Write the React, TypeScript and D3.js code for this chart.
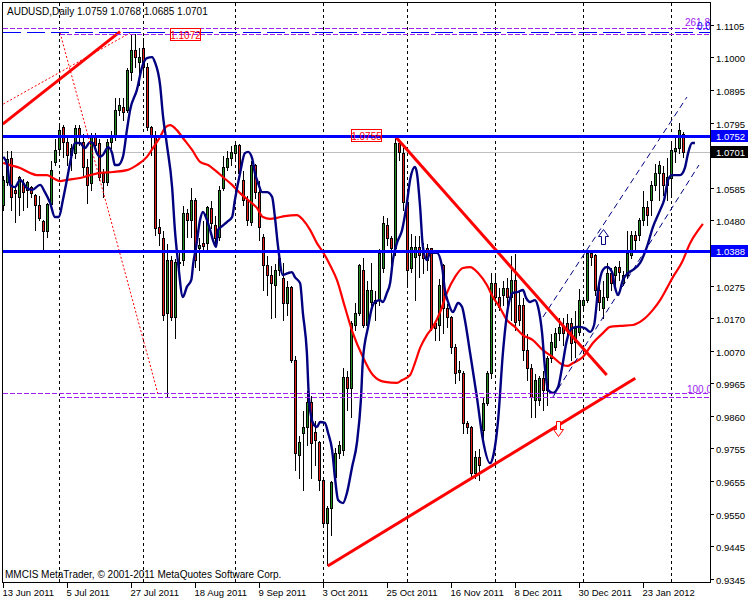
import React, { useEffect, useRef } from "react";
import * as d3 from "d3";

const width = 750;
const height = 600;

// AUDUSD daily bars, bar 0 = 13 Jun 2011
const opens = [
  1.0533, 1.0606, 1.0682, 1.0581, 1.0559, 1.0603, 1.0581, 1.0590, 1.0565, 1.0533,
  1.0482, 1.0451, 1.0536, 1.0670, 1.0711, 1.0781, 1.0733, 1.0692, 1.0698, 1.0778,
  1.0733, 1.0654, 1.0603, 1.0756, 1.0730, 1.0635, 1.0606, 1.0733, 1.0749, 1.0835,
  1.0844, 1.0835, 1.0956, 1.1026, 1.0987, 1.1032, 1.0972, 1.0781, 1.0756, 1.0463,
  1.0428, 1.0190, 1.0358, 1.0177, 1.0349, 1.0358, 1.0508, 1.0486, 1.0549, 1.0397,
  1.0412, 1.0412, 1.0524, 1.0470, 1.0432, 1.0587, 1.0654, 1.0682, 1.0698, 1.0724,
  1.0613, 1.0549, 1.0479, 1.0660, 1.0574, 1.0432, 1.0342, 1.0311, 1.0279, 1.0327,
  1.0301, 1.0222, 1.0273, 1.0041, 0.9739, 0.9809, 0.9828, 0.9907, 0.9812, 0.9780,
  0.9659, 0.9523, 0.9570, 0.9669, 0.9745, 0.9755, 0.9987, 0.9952, 1.0152, 1.0190,
  1.0327, 1.0152, 1.0225, 1.0222, 1.0231, 1.0333, 1.0470, 1.0428, 1.0397, 1.0730,
  1.0698, 1.0543, 1.0333, 1.0368, 1.0400, 1.0390, 1.0397, 1.0397, 1.0158, 1.0152,
  1.0342, 1.0206, 1.0177, 1.0082, 1.0003, 0.9999, 0.9841, 0.9828, 0.9682, 0.9732,
  0.9818, 0.9904, 0.9999, 1.0285, 1.0241, 1.0247, 1.0269, 1.0241, 1.0295, 1.0215,
  1.0215, 1.0072, 1.0015, 0.9914, 0.9914, 0.9984, 0.9945, 1.0047, 1.0082, 1.0126,
  1.0146, 1.0158, 1.0158, 1.0098, 1.0130, 1.0215, 1.0231, 1.0381, 1.0374, 1.0263,
  1.0206, 1.0241, 1.0317, 1.0311, 1.0336, 1.0285, 1.0311, 1.0374, 1.0438, 1.0438,
  1.0486, 1.0527, 1.0549, 1.0597, 1.0635, 1.0635, 1.0597, 1.0619, 1.0705, 1.0714,
  1.0759,
];
const highs = [
  1.0628, 1.0708, 1.0708, 1.0597, 1.0628, 1.0619, 1.0613, 1.0597, 1.0571, 1.0565,
  1.0489, 1.0543, 1.0676, 1.0746, 1.0787, 1.0790, 1.0749, 1.0730, 1.0790, 1.0790,
  1.0762, 1.0682, 1.0765, 1.0765, 1.0746, 1.0651, 1.0746, 1.0771, 1.0876, 1.0876,
  1.0876, 1.0972, 1.1080, 1.1080, 1.1035, 1.1067, 1.0987, 1.0787, 1.0771, 1.0492,
  1.0454, 1.0412, 1.0374, 1.0365, 1.0390, 1.0533, 1.0524, 1.0590, 1.0559, 1.0432,
  1.0486, 1.0533, 1.0549, 1.0501, 1.0597, 1.0692, 1.0708, 1.0724, 1.0730, 1.0730,
  1.0644, 1.0565, 1.0676, 1.0667, 1.0613, 1.0444, 1.0374, 1.0342, 1.0349, 1.0390,
  1.0352, 1.0295, 1.0279, 1.0057, 0.9802, 0.9882, 0.9945, 0.9929, 0.9850, 0.9787,
  0.9669, 0.9580, 0.9659, 0.9764, 0.9787, 1.0018, 1.0009, 1.0168, 1.0225, 1.0349,
  1.0368, 1.0295, 1.0352, 1.0263, 1.0397, 1.0501, 1.0495, 1.0438, 1.0749, 1.0740,
  1.0717, 1.0559, 1.0444, 1.0438, 1.0438, 1.0416, 1.0412, 1.0400, 1.0168, 1.0301,
  1.0349, 1.0222, 1.0184, 1.0095, 1.0041, 1.0009, 0.9850, 0.9834, 0.9755, 0.9761,
  0.9923, 1.0009, 1.0320, 1.0317, 1.0273, 1.0295, 1.0304, 1.0374, 1.0381, 1.0263,
  1.0241, 1.0126, 1.0031, 0.9999, 0.9993, 1.0009, 1.0057, 1.0126, 1.0146, 1.0177,
  1.0177, 1.0190, 1.0177, 1.0200, 1.0269, 1.0241, 1.0390, 1.0390, 1.0381, 1.0295,
  1.0295, 1.0352, 1.0336, 1.0342, 1.0358, 1.0327, 1.0454, 1.0454, 1.0454, 1.0495,
  1.0581, 1.0549, 1.0613, 1.0667, 1.0676, 1.0660, 1.0686, 1.0740, 1.0749, 1.0797,
  1.0768,
];
const lows = [
  1.0517, 1.0597, 1.0517, 1.0479, 1.0501, 1.0517, 1.0527, 1.0559, 1.0454, 1.0486,
  1.0390, 1.0432, 1.0530, 1.0660, 1.0702, 1.0686, 1.0660, 1.0644, 1.0682, 1.0724,
  1.0628, 1.0540, 1.0581, 1.0708, 1.0613, 1.0559, 1.0597, 1.0714, 1.0740, 1.0819,
  1.0803, 1.0829, 1.0930, 1.0972, 1.0914, 1.0946, 1.0771, 1.0692, 1.0438, 1.0406,
  1.0168, 0.9923, 1.0168, 1.0111, 1.0320, 1.0342, 1.0432, 1.0432, 1.0336, 1.0327,
  1.0390, 1.0390, 1.0460, 1.0406, 1.0422, 1.0581, 1.0644, 1.0660, 1.0676, 1.0619,
  1.0533, 1.0470, 1.0470, 1.0555, 1.0422, 1.0263, 1.0247, 1.0174, 1.0177, 1.0311,
  1.0168, 1.0184, 1.0034, 0.9691, 0.9666, 0.9628, 0.9771, 0.9666, 0.9707, 0.9628,
  0.9510, 0.9389, 0.9485, 0.9644, 0.9729, 0.9739, 0.9882, 0.9860, 1.0136, 1.0184,
  1.0146, 1.0136, 1.0215, 1.0168, 1.0215, 1.0320, 1.0406, 1.0320, 1.0374, 1.0676,
  1.0517, 1.0273, 1.0320, 1.0231, 1.0304, 1.0317, 1.0327, 1.0136, 1.0104, 1.0104,
  1.0126, 1.0146, 1.0063, 0.9968, 0.9977, 0.9809, 0.9809, 0.9666, 0.9666, 0.9659,
  0.9787, 0.9898, 0.9984, 1.0231, 1.0200, 1.0215, 1.0200, 1.0168, 1.0136, 1.0152,
  1.0041, 0.9977, 0.9860, 0.9860, 0.9898, 0.9882, 0.9898, 1.0034, 1.0072, 1.0104,
  1.0088, 1.0114, 1.0041, 1.0050, 1.0120, 1.0200, 1.0225, 1.0342, 1.0247, 1.0200,
  1.0174, 1.0231, 1.0263, 1.0279, 1.0295, 1.0279, 1.0301, 1.0365, 1.0390, 1.0422,
  1.0470, 1.0470, 1.0501, 1.0581, 1.0549, 1.0565, 1.0549, 1.0559, 1.0670, 1.0698,
  1.0685,
];
const closes = [
  1.0613, 1.0679, 1.0559, 1.0571, 1.0622, 1.0574, 1.0606, 1.0571, 1.0533, 1.0492,
  1.0451, 1.0536, 1.0644, 1.0708, 1.0771, 1.0733, 1.0692, 1.0714, 1.0778, 1.0756,
  1.0654, 1.0597, 1.0756, 1.0724, 1.0622, 1.0606, 1.0733, 1.0756, 1.0835, 1.0851,
  1.0829, 1.0962, 1.1026, 1.1003, 1.1003, 1.0972, 1.0781, 1.0756, 1.0460, 1.0444,
  1.0184, 1.0358, 1.0177, 1.0352, 1.0352, 1.0508, 1.0486, 1.0549, 1.0358, 1.0406,
  1.0403, 1.0527, 1.0476, 1.0428, 1.0581, 1.0654, 1.0682, 1.0702, 1.0724, 1.0635,
  1.0549, 1.0486, 1.0660, 1.0574, 1.0463, 1.0342, 1.0311, 1.0285, 1.0327, 1.0365,
  1.0222, 1.0273, 1.0041, 0.9745, 0.9780, 0.9828, 0.9907, 0.9777, 0.9787, 0.9659,
  0.9523, 0.9570, 0.9653, 0.9745, 0.9771, 0.9987, 0.9952, 1.0158, 1.0190, 1.0342,
  1.0152, 1.0263, 1.0263, 1.0231, 1.0381, 1.0476, 1.0428, 1.0397, 1.0730, 1.0702,
  1.0543, 1.0327, 1.0400, 1.0400, 1.0374, 1.0365, 1.0358, 1.0142, 1.0142, 1.0279,
  1.0206, 1.0177, 1.0082, 0.9999, 1.0009, 0.9841, 0.9828, 0.9682, 0.9732, 0.9707,
  0.9904, 0.9999, 1.0285, 1.0241, 1.0209, 1.0269, 1.0241, 1.0295, 1.0161, 1.0168,
  1.0072, 1.0015, 0.9923, 0.9977, 0.9984, 0.9945, 1.0047, 1.0098, 1.0126, 1.0146,
  1.0126, 1.0136, 1.0095, 1.0142, 1.0231, 1.0231, 1.0381, 1.0368, 1.0263, 1.0225,
  1.0241, 1.0317, 1.0285, 1.0336, 1.0320, 1.0311, 1.0381, 1.0438, 1.0422, 1.0486,
  1.0527, 1.0501, 1.0597, 1.0635, 1.0660, 1.0597, 1.0622, 1.0708, 1.0714, 1.0771,
  1.0701,
];

// indicator lines, [bar, price]
const fastMa: [number, number][] = [
  [0, 1.0686], [1, 1.066], [1.7, 1.0597], [2.9, 1.059], [4.2, 1.0613], [5.9, 1.0587],
  [7.2, 1.0581], [9.2, 1.0597], [10.4, 1.0574], [11.7, 1.054], [12.9, 1.0495], [13.9, 1.0495],
  [14.9, 1.0549], [15.9, 1.0613], [16.7, 1.0667], [17.9, 1.073], [19.2, 1.073], [20.4, 1.0714],
  [21.7, 1.0733], [22.4, 1.073], [23.4, 1.0698], [24.2, 1.0686], [24.9, 1.0692], [26.2, 1.0717],
  [27.2, 1.0698], [27.9, 1.066], [28.7, 1.066], [29.9, 1.0686], [30.9, 1.0771], [31.7, 1.0835],
  [33.4, 1.0899], [34.7, 1.0972], [35.9, 1.1], [37.2, 1.1003], [37.9, 1.0987], [39.2, 1.0914],
  [39.9, 1.0819], [40.9, 1.0724], [42.2, 1.059], [42.9, 1.0454], [43.7, 1.0349], [44.9, 1.0241],
  [45.9, 1.0273], [47.0, 1.0295], [47.5, 1.0349], [48.2, 1.04], [49.2, 1.0486], [49.9, 1.0511],
  [50.9, 1.0486], [51.7, 1.0454], [52.4, 1.0422], [53.2, 1.04], [53.7, 1.0454], [54.7, 1.0466],
  [55.9, 1.0479], [57.2, 1.0495], [57.9, 1.0549], [59.2, 1.0635], [60.4, 1.0698], [61.2, 1.0702],
  [62.2, 1.0682], [62.9, 1.0635], [63.7, 1.0603], [64.7, 1.0574], [65.9, 1.0574], [67.2, 1.0559],
  [67.9, 1.0495], [68.7, 1.04], [69.9, 1.0311], [71.2, 1.0317], [72.2, 1.032], [72.9, 1.0304],
  [74.2, 1.0285], [74.9, 1.019], [75.9, 1.0063], [76.4, 0.9923], [77.4, 0.9841], [78.4, 0.9828],
  [79.2, 0.9844], [80.4, 0.9841], [81.2, 0.9809], [82.2, 0.9755], [82.9, 0.9669], [83.7, 0.9596],
  [84.9, 0.9586], [85.9, 0.9618], [87.2, 0.9701], [88.4, 0.9777], [89.4, 0.9914], [89.9, 1.0041],
  [91.2, 1.0146], [92.2, 1.0209], [92.9, 1.0225], [94.2, 1.0231], [94.9, 1.0225], [95.9, 1.0254],
  [96.7, 1.0285], [97.4, 1.0358], [98.4, 1.0412], [99.7, 1.0454], [100.9, 1.054], [101.7, 1.0613],
  [102.9, 1.0654], [103.4, 1.0635], [104.2, 1.0527], [104.9, 1.04], [105.9, 1.0358], [106.7, 1.0381],
  [108.4, 1.0381], [109.7, 1.0336], [110.4, 1.0263], [111.2, 1.0225], [112.4, 1.0193], [113.7, 1.0222],
  [114.7, 1.0209], [115.4, 1.0168], [116.7, 1.0063], [118.4, 0.9923], [119.9, 0.9787], [121.7, 0.9713],
  [122.4, 0.9732], [123.7, 0.985], [124.9, 1.0063], [126.2, 1.0209], [127.4, 1.0254], [128.7, 1.0257],
  [129.9, 1.0263], [130.7, 1.0238], [131.7, 1.0225], [132.9, 1.0231], [133.7, 1.0209], [134.7, 1.0126],
  [135.4, 1.0018], [136.2, 0.9945], [137.4, 0.9936], [138.7, 0.9955], [139.7, 1.0018], [140.9, 1.0104],
  [142.2, 1.0142], [143.7, 1.0146], [145.4, 1.0142], [146.7, 1.013], [147.7, 1.0152], [148.7, 1.0263],
  [149.9, 1.0327], [150.9, 1.0336], [152.2, 1.032], [152.9, 1.0273], [153.7, 1.0247], [154.9, 1.0295],
  [156.2, 1.0317], [157.4, 1.0327], [159.2, 1.0349], [160.9, 1.04], [162.4, 1.0463], [164.2, 1.0517],
  [165.2, 1.0549], [166.2, 1.0613], [167.2, 1.0628], [169.2, 1.0628], [170.4, 1.0651], [171.2, 1.0698],
  [172.2, 1.073], [172.9, 1.073],
];
const slowMa: [number, number][] = [
  [0, 1.0667], [1.7, 1.066], [4.2, 1.0651], [6.7, 1.0635], [8.4, 1.0628], [10.9, 1.0628],
  [12.4, 1.0619], [14.2, 1.0609], [15.9, 1.0613], [19.2, 1.0619], [21.7, 1.0628], [24.2, 1.0635],
  [27.4, 1.0638], [30.9, 1.0644], [33.4, 1.066], [35.9, 1.0686], [37.4, 1.0714], [39.2, 1.0749],
  [40.4, 1.0778], [41.7, 1.0787], [43.4, 1.0771], [44.9, 1.0746], [47.2, 1.0708], [49.2, 1.067],
  [51.2, 1.066], [52.9, 1.0644], [54.9, 1.0622], [57.2, 1.0597], [59.2, 1.0571], [61.2, 1.0549],
  [63.4, 1.0524], [64.9, 1.0495], [66.7, 1.0489], [68.4, 1.0492], [70.4, 1.0498], [73.4, 1.0501],
  [74.9, 1.0486], [76.7, 1.0454], [78.4, 1.0412], [79.9, 1.0384], [81.7, 1.0342], [83.4, 1.0295],
  [85.4, 1.0209], [87.4, 1.0126], [89.9, 1.005], [92.4, 0.9993], [95.4, 0.9971], [98.4, 0.9968],
  [99.7, 0.9977], [101.7, 0.9993], [102.9, 1.0031], [104.2, 1.0079], [105.9, 1.012], [107.4, 1.0146],
  [109.2, 1.0193], [110.9, 1.0254], [112.9, 1.0304], [114.9, 1.0333], [116.7, 1.0336], [118.7, 1.0317],
  [120.9, 1.0279], [122.4, 1.0241], [124.2, 1.0206], [125.9, 1.0168], [127.9, 1.0146], [129.9, 1.012],
  [132.4, 1.0104], [134.9, 1.0072], [137.4, 1.005], [139.9, 1.0025], [141.2, 1.0022], [142.4, 1.0031],
  [144.9, 1.005], [147.4, 1.0095], [149.9, 1.0126], [151.7, 1.0146], [154.2, 1.0149], [157.4, 1.0152],
  [159.9, 1.0168], [162.4, 1.02], [164.2, 1.0231], [165.9, 1.0269], [167.4, 1.0304], [169.7, 1.0352],
  [171.7, 1.0412], [173.4, 1.0447], [174.9, 1.0473],
];

// drawn objects, [bar, price] end points
const thickTrendLines: [number, number][][] = [
  [[-0.15, 1.079], [29.2, 1.1084]],
  [[97.9, 1.0752], [150.85, 0.9993]],
  [[81.1, 0.9386], [158.0, 0.9983]],
];
const dottedTrendLines: [number, number][][] = [
  [[0, 1.0854], [31.7, 1.108]],
  [[14.2, 1.108], [38.75, 0.9929]],
];
const channelLines: [number, number][][] = [
  [[134.9, 1.0177], [170.9, 1.0876]],
  [[137.4, 0.9923], [173.9, 1.066]],
];

const levelLines = [1.0752, 1.0388];
const levelLabels = ["1.0752", "1.0388"];
const bidPrice = 1.0701;

// fibonacci levels
const fiboFull = [1.1095, 0.9935];
const fiboFromAnchor = [1.1076, 0.9924];
const fiboAnchorBar = 14.2;
const zeroLevel = 1.1082;

const priceTicks = [
  1.1105, 1.1002, 1.0898, 1.0795, 1.0691, 1.0588, 1.0484, 1.0381, 1.0277,
  1.0174, 1.007, 0.9967, 0.9863, 0.976, 0.9656, 0.9552, 0.9449, 0.9345,
];
const priceTickLabels = [
  "1.1105", "1.1000", "1.0895", "1.0795", "", "1.0585", "1.0480", "", "1.0275",
  "1.0170", "1.0070", "0.9965", "0.9860", "0.9755", "0.9655", "0.9550", "0.9445", "0.9345",
];

const dateTickBars = [0, 16, 32, 48, 64, 80, 96, 112, 128, 144, 160];
const dateTickLabels = [
  "13 Jun 2011", "5 Jul 2011", "27 Jul 2011", "18 Aug 2011", "9 Sep 2011", "3 Oct 2011",
  "25 Oct 2011", "16 Nov 2011", "8 Dec 2011", "30 Dec 2011", "23 Jan 2012",
];
const monthStartBars = [14, 35, 58, 80, 101, 123, 145, 167];

const priceNotes = [
  { bar: 41.7, price: 1.1095, text: "1.1072" },
  { bar: 86.9, price: 1.0774, text: "1.0755" },
];

const FONT = "'Liberation Sans', Arial, sans-serif";
const FIBO = "#a020f0";

export default function App() {
  const svgRef = useRef<SVGSVGElement>(null);

  useEffect(() => {
    if (!svgRef.current) return;
    const svg = d3.select(svgRef.current);
    svg.selectAll("*").remove();

    const x = d3.scaleLinear().domain([0, 170]).range([3.3, 683.3]);
    const y = d3.scaleLinear().domain([0.9345, 1.1105]).range([579, 25]);
    const px = (i: number) => Math.round(x(i)) + 0.5;
    const py = (p: number) => Math.round(y(p)) + 0.5;

    const plotLeft = 2.5, plotRight = 710.5, plotTop = 2.5, plotBottom = 582.5;

    svg.append("rect").attr("width", width).attr("height", height).attr("fill", "#fff");

    svg.append("defs").append("clipPath").attr("id", "plotClip")
      .append("rect")
      .attr("x", plotLeft + 0.5).attr("y", plotTop + 0.5)
      .attr("width", plotRight - plotLeft - 1).attr("height", plotBottom - plotTop - 1);

    const g = svg.append("g").attr("clip-path", "url(#plotClip)");

    // month grid
    g.selectAll(".grid")
      .data(monthStartBars)
      .enter()
      .append("line")
      .attr("x1", d => px(d)).attr("x2", d => px(d))
      .attr("y1", plotTop).attr("y2", plotBottom)
      .attr("stroke", "#000")
      .attr("stroke-dasharray", "3,3")
      .attr("shape-rendering", "crispEdges");

    // bid line
    g.append("line")
      .attr("x1", plotLeft).attr("x2", plotRight)
      .attr("y1", py(bidPrice)).attr("y2", py(bidPrice))
      .attr("stroke", "#c0c0c0")
      .attr("shape-rendering", "crispEdges");

    // candles
    const bars = d3.range(opens.length);
    g.selectAll(".wick")
      .data(bars)
      .enter()
      .append("line")
      .attr("x1", i => px(i)).attr("x2", i => px(i))
      .attr("y1", i => py(highs[i])).attr("y2", i => py(lows[i]) + 0.5)
      .attr("stroke", "#000")
      .attr("shape-rendering", "crispEdges");

    g.selectAll(".body")
      .data(bars)
      .enter()
      .append("rect")
      .attr("x", i => px(i) - 1)
      .attr("y", i => py(Math.max(opens[i], closes[i])))
      .attr("width", 2)
      .attr("height", i => Math.max(1, py(Math.min(opens[i], closes[i])) - py(Math.max(opens[i], closes[i]))))
      .attr("fill", i => (closes[i] >= opens[i] ? "#228b22" : "#e8201c"))
      .attr("stroke", "#000")
      .attr("shape-rendering", "crispEdges");

    // moving averages
    const maLine = d3.line<[number, number]>()
      .x(d => x(d[0]))
      .y(d => y(d[1]))
      .curve(d3.curveMonotoneX);

    g.append("path")
      .datum(slowMa)
      .attr("d", maLine)
      .attr("fill", "none")
      .attr("stroke", "#ff0000")
      .attr("stroke-width", 2.2);

    g.append("path")
      .datum(fastMa)
      .attr("d", maLine)
      .attr("fill", "none")
      .attr("stroke", "#000080")
      .attr("stroke-width", 2.4);

    const segment = d3.line<[number, number]>().x(d => x(d[0])).y(d => y(d[1]));

    // channel
    channelLines.forEach(l => {
      g.append("path").attr("d", segment(l)!)
        .attr("fill", "none").attr("stroke", "#000080")
        .attr("stroke-width", 1).attr("stroke-dasharray", "6,4");
    });

    // dotted helper lines
    dottedTrendLines.forEach(l => {
      g.append("path").attr("d", segment(l)!)
        .attr("fill", "none").attr("stroke", "#ff0000")
        .attr("stroke-width", 1).attr("stroke-dasharray", "2,2");
    });

    // trend lines
    thickTrendLines.forEach(l => {
      g.append("path").attr("d", segment(l)!)
        .attr("fill", "none").attr("stroke", "#ff0000")
        .attr("stroke-width", 3);
    });

    // fibo levels
    fiboFull.forEach(p => {
      g.append("line")
        .attr("x1", plotLeft).attr("x2", plotRight)
        .attr("y1", py(p)).attr("y2", py(p))
        .attr("stroke", FIBO).attr("stroke-dasharray", "5,2")
        .attr("shape-rendering", "crispEdges");
    });
    fiboFromAnchor.forEach(p => {
      g.append("line")
        .attr("x1", x(fiboAnchorBar)).attr("x2", plotRight)
        .attr("y1", py(p)).attr("y2", py(p))
        .attr("stroke", FIBO).attr("stroke-dasharray", "5,2")
        .attr("shape-rendering", "crispEdges");
    });
    g.append("line")
      .attr("x1", plotLeft).attr("x2", plotRight)
      .attr("y1", py(zeroLevel)).attr("y2", py(zeroLevel))
      .attr("stroke", "#0000ff").attr("stroke-dasharray", "18,6")
      .attr("shape-rendering", "crispEdges");

    // horizontal levels
    levelLines.forEach(p => {
      g.append("line")
        .attr("x1", plotLeft).attr("x2", plotRight)
        .attr("y1", Math.round(y(p)) + 0.5).attr("y2", Math.round(y(p)) + 0.5)
        .attr("stroke", "#0000ff").attr("stroke-width", 3)
        .attr("shape-rendering", "crispEdges");
    });

    // boxed price notes
    priceNotes.forEach(n => {
      const bx = Math.round(x(n.bar)) + 0.5;
      const by = Math.round(y(n.price)) + 0.5;
      g.append("rect")
        .attr("x", bx).attr("y", by).attr("width", 30).attr("height", 12)
        .attr("fill", "none").attr("stroke", "#ff0000")
        .attr("shape-rendering", "crispEdges");
      g.append("text")
        .attr("x", bx + 15).attr("y", by + 10)
        .attr("text-anchor", "middle")
        .style("font-family", FONT).style("font-size", "10px")
        .attr("fill", "#ff0000")
        .text(n.text);
    });

    // signal arrows
    const upArrow = (cx: number, top: number) =>
      `M${cx},${top} L${cx + 5},${top + 7} L${cx + 2},${top + 7} L${cx + 2},${top + 15} L${cx - 2},${top + 15} L${cx - 2},${top + 7} L${cx - 5},${top + 7} Z`;
    const downArrow = (cx: number, bottom: number) =>
      `M${cx},${bottom} L${cx + 5},${bottom - 7} L${cx + 2},${bottom - 7} L${cx + 2},${bottom - 15} L${cx - 2},${bottom - 15} L${cx - 2},${bottom - 7} L${cx - 5},${bottom - 7} Z`;
    g.append("path").attr("d", upArrow(px(150), py(1.0456)))
      .attr("fill", "#fff").attr("stroke", "#000080");
    g.append("path").attr("d", downArrow(px(138.7), py(0.9799)))
      .attr("fill", "#fff").attr("stroke", "#ff0000");

    // fibo level texts
    const levelText = (tx: number, p: number, t: string, color: string) =>
      g.append("text").attr("x", tx).attr("y", y(p))
        .style("font-family", FONT).style("font-size", "10px")
        .attr("fill", color).text(t);
    levelText(685, 1.1102, "261.8", FIBO);
    levelText(697, 1.1088, "0.0", "#0000ff");
    levelText(687, 0.9936, "100.0", FIBO);

    // frame
    svg.append("rect")
      .attr("x", plotLeft).attr("y", plotTop)
      .attr("width", plotRight - plotLeft).attr("height", plotBottom - plotTop)
      .attr("fill", "none").attr("stroke", "#000")
      .attr("shape-rendering", "crispEdges");

    // right price axis
    priceTicks.forEach((p, k) => {
      const ty = py(p);
      svg.append("line")
        .attr("x1", plotRight).attr("x2", plotRight + 3)
        .attr("y1", ty).attr("y2", ty)
        .attr("stroke", "#000").attr("shape-rendering", "crispEdges");
      svg.append("text")
        .attr("x", 716).attr("y", ty + 4)
        .style("font-family", FONT).style("font-size", "9.5px")
        .attr("fill", "#000")
        .text(priceTickLabels[k]);
    });

    const axisBox = (p: number, label: string, fill: string) => {
      const cy = Math.round(y(p));
      svg.append("rect")
        .attr("x", 711).attr("y", cy - 6).attr("width", 37).attr("height", 12)
        .attr("fill", fill);
      svg.append("text")
        .attr("x", 716).attr("y", cy + 4)
        .style("font-family", FONT).style("font-size", "9.5px")
        .attr("fill", "#fff")
        .text(label);
    };
    levelLines.forEach((p, k) => axisBox(p, levelLabels[k], "#0000ff"));
    axisBox(bidPrice, "1.0701", "#000");

    // bottom date axis
    dateTickBars.forEach((b, k) => {
      const tx = px(b);
      svg.append("line")
        .attr("x1", tx).attr("x2", tx)
        .attr("y1", plotBottom).attr("y2", plotBottom + 5)
        .attr("stroke", "#000").attr("shape-rendering", "crispEdges");
      svg.append("text")
        .attr("x", tx - 1).attr("y", 596)
        .style("font-family", FONT).style("font-size", "9.5px")
        .attr("fill", "#000")
        .text(dateTickLabels[k]);
    });

    // header and footer
    svg.append("text")
      .attr("x", 7).attr("y", 15)
      .style("font-family", FONT).style("font-size", "10px")
      .attr("fill", "#000")
      .text("AUDUSD,Daily  1.0759 1.0768 1.0685 1.0701");

    svg.append("text")
      .attr("x", 5).attr("y", 578)
      .style("font-family", FONT).style("font-size", "10px")
      .attr("fill", "#000")
      .text("MMCIS MetaTrader, © 2001-2011 MetaQuotes Software Corp.");
  }, []);

  return (
    <svg
      ref={svgRef}
      width={width}
      height={height}
      style={{ position: "absolute", left: 0, top: 0, display: "block" }}
    />
  );
}
